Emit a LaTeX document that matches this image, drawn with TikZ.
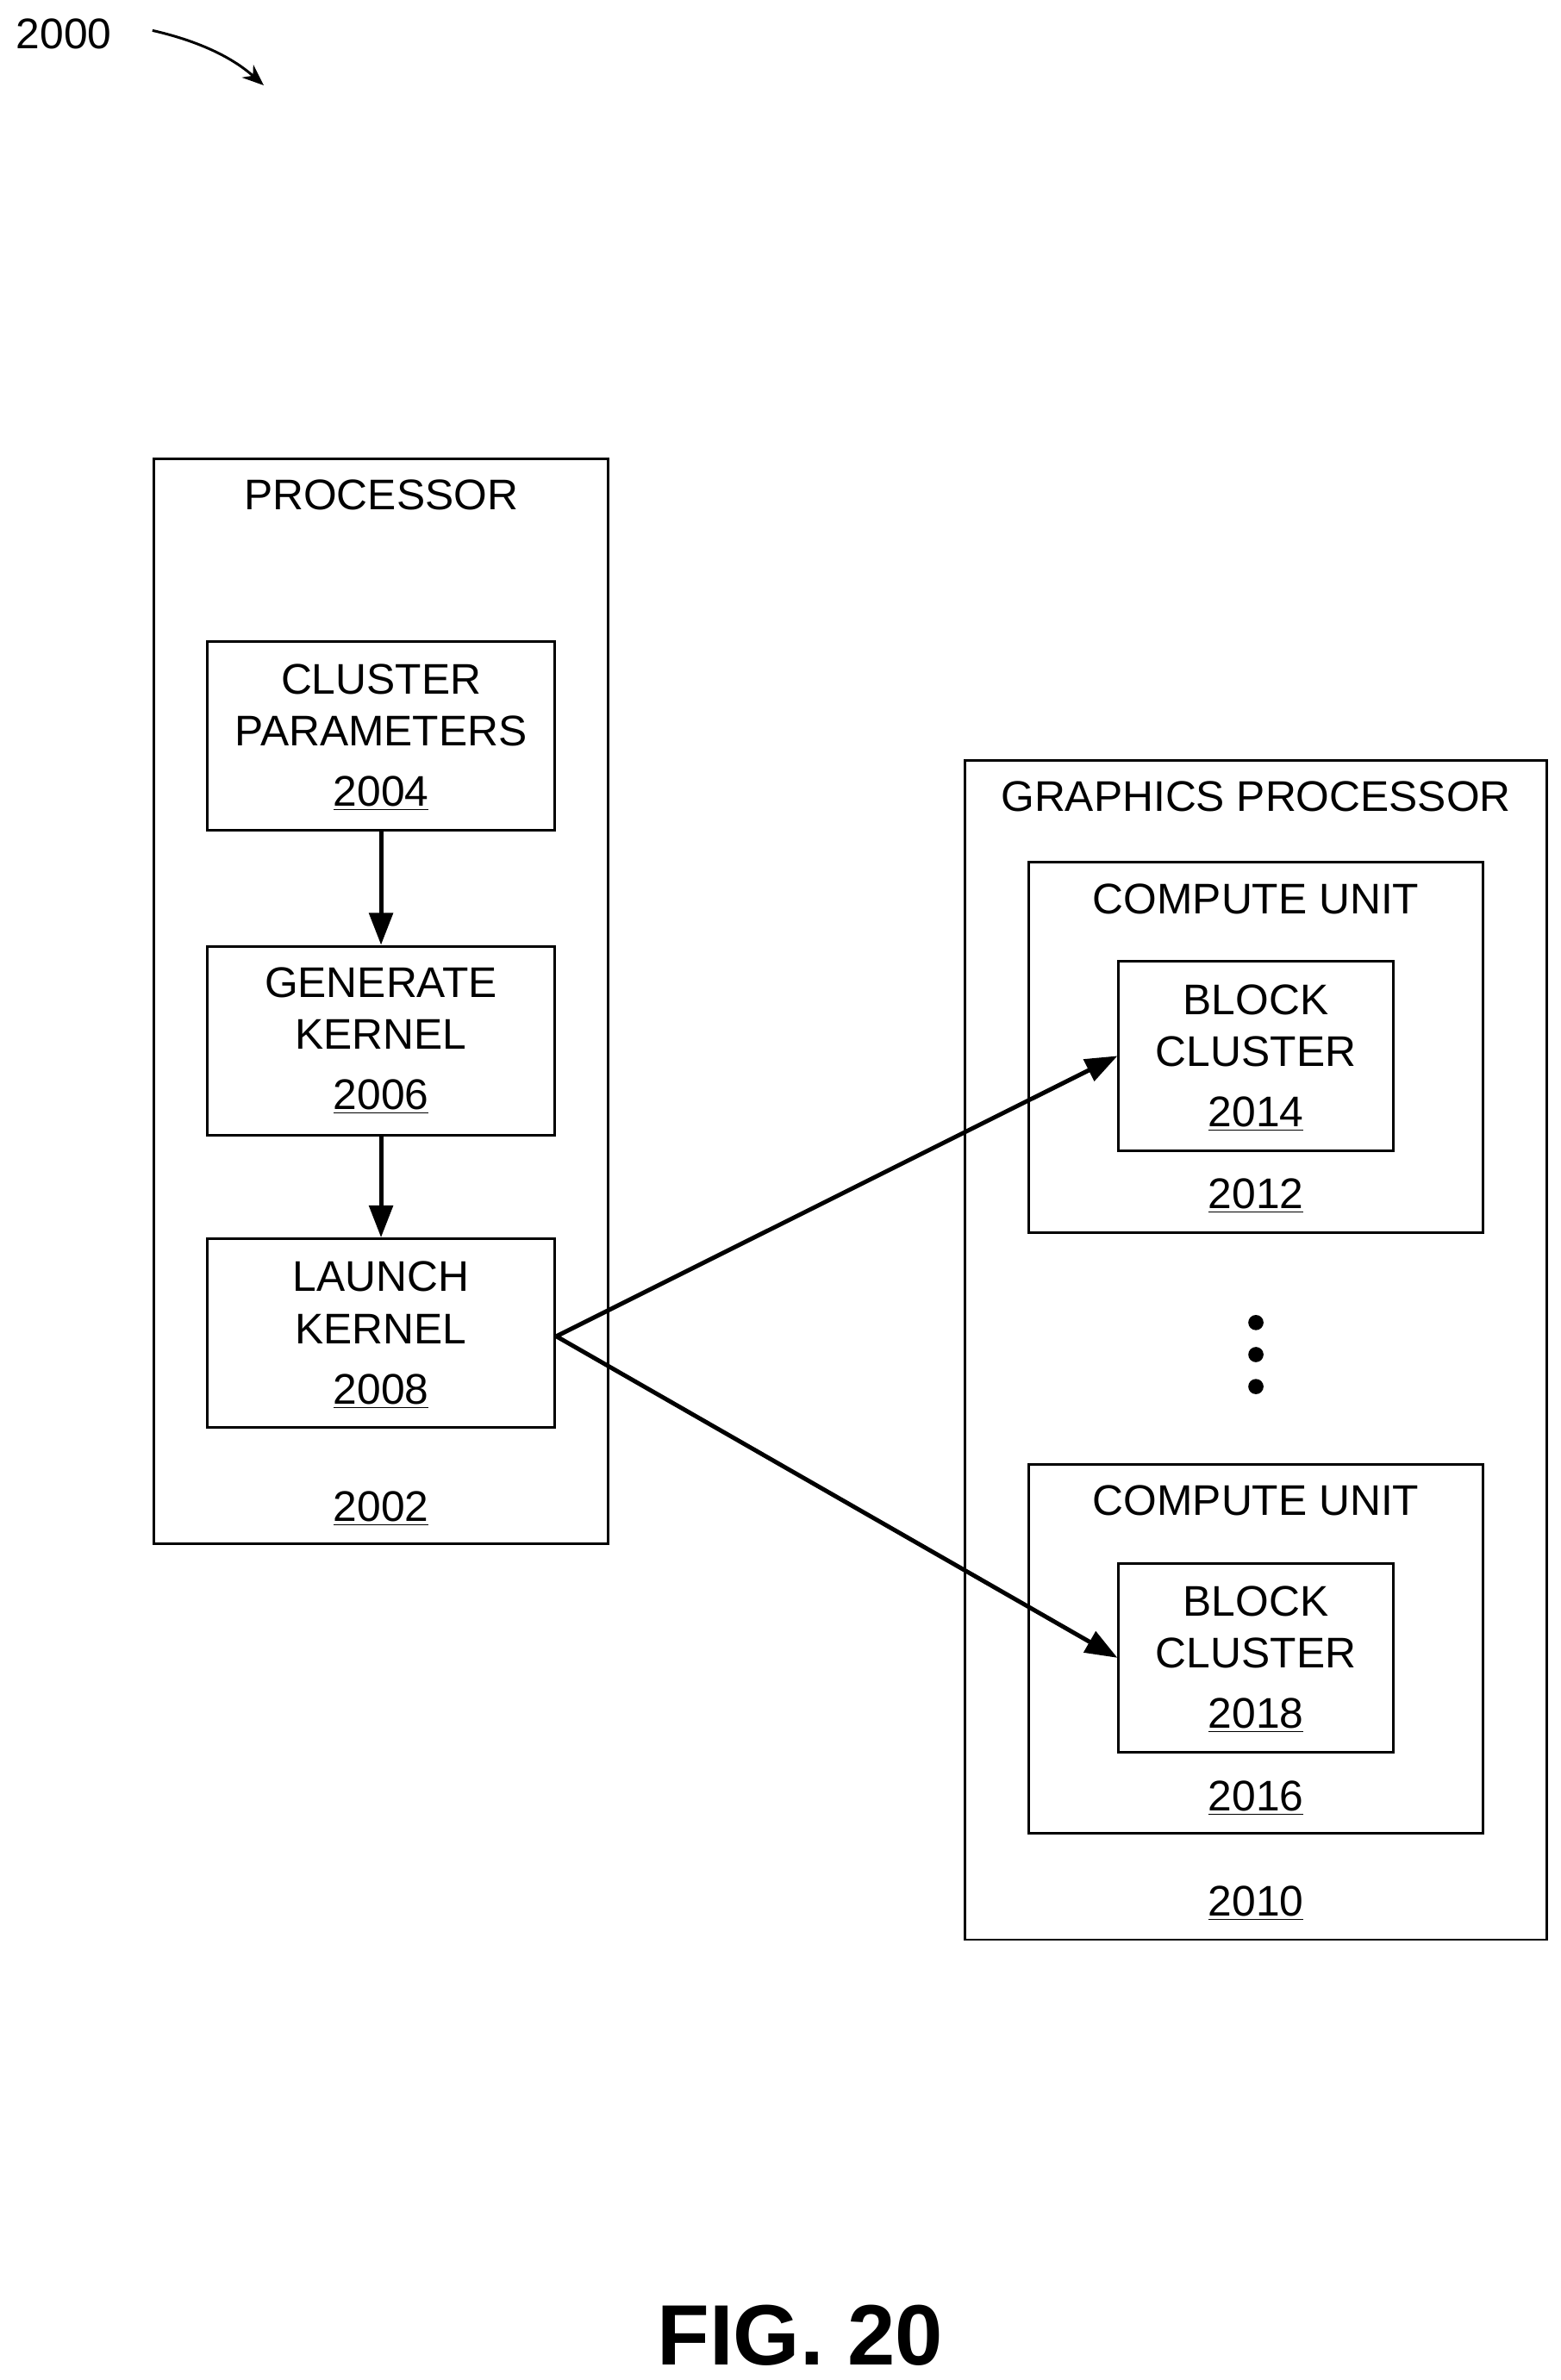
\documentclass[tikz,border=0pt]{standalone}
\usepackage{fontspec}
\setmainfont{Liberation Sans}
\usetikzlibrary{arrows.meta}
\begin{document}
\begin{tikzpicture}[x=0.025cm,y=-0.025cm,
  box/.style={draw,line width=1.2pt},
  t/.style={font=\fontsize{20pt}{23pt}\selectfont,inner sep=0pt,anchor=center},
  arr/.style={line width=2pt,-{Triangle[length=15pt,width=11pt]}}]
\useasboundingbox (0,0) rectangle (1024,1562);
% processor
\node[box,minimum width=298*0.025cm,minimum height=712*0.025cm,inner sep=0pt] (proc) at (250,657) {};
\node[t] (procl) at (250,325) {PROCESSOR};
\node[t] (n2002) at (250,990) {\underline{2002}};
\node[box,minimum width=228*0.025cm,minimum height=124*0.025cm,inner sep=0pt] (cp) at (250,483) {};
\node[t] (cpa) at (250,446) {CLUSTER};
\node[t] (cpb) at (250,480) {PARAMETERS};
\node[t] (cpc) at (250,521) {\underline{2004}};
\node[box,minimum width=228*0.025cm,minimum height=124*0.025cm,inner sep=0pt] (gk) at (250,683) {};
\node[t] (gka) at (250,645) {GENERATE};
\node[t] (gkb) at (250,679) {KERNEL};
\node[t] (gkc) at (250,720) {\underline{2006}};
\node[box,minimum width=228*0.025cm,minimum height=124*0.025cm,inner sep=0pt] (lk) at (250,875) {};
\node[t] (lka) at (250,838) {LAUNCH};
\node[t] (lkb) at (250,872) {KERNEL};
\node[t] (lkc) at (250,913) {\underline{2008}};
\draw[arr] (cp.south) -- (gk.north);
\draw[arr] (gk.south) -- (lk.north);
% graphics
\node[box,minimum width=382*0.025cm,minimum height=774*0.025cm,inner sep=0pt] (gp) at (824,886) {};
\node[t] (gpl) at (824,523) {GRAPHICS PROCESSOR};
\node[t] (n2010) at (824,1249) {\underline{2010}};
\node[box,minimum width=298*0.025cm,minimum height=243*0.025cm,inner sep=0pt] (cu1) at (824,687.5) {};
\node[t] (cu1l) at (824,590) {COMPUTE UNIT};
\node[t] (n2012) at (824,785) {\underline{2012}};
\node[box,minimum width=180*0.025cm,minimum height=124*0.025cm,inner sep=0pt] (bc1) at (824,693) {};
\node[t] (bc1a) at (824,656) {BLOCK};
\node[t] (bc1b) at (824,690) {CLUSTER};
\node[t] (bc1c) at (824,731) {\underline{2014}};
\node[box,minimum width=298*0.025cm,minimum height=242*0.025cm,inner sep=0pt] (cu2) at (824,1082) {};
\node[t] (cu2l) at (824,985) {COMPUTE UNIT};
\node[t] (n2016) at (824,1180) {\underline{2016}};
\node[box,minimum width=180*0.025cm,minimum height=124*0.025cm,inner sep=0pt] (bc2) at (824,1088) {};
\node[t] (bc2a) at (824,1051) {BLOCK};
\node[t] (bc2b) at (824,1085) {CLUSTER};
\node[t] (bc2c) at (824,1126) {\underline{2018}};
\foreach \yy in {868,889,910} \fill (824,\yy) circle (5);
\coordinate (src) at (365,877);
\draw[arr] (src) -- (bc1.west);
\draw[arr] (src) -- (bc2.west);
% label
\node[t] (n2000) at (42,22) {2000};
\coordinate (c1) at (100,20);
\coordinate (c2) at (173,56);
\draw[line width=1.2pt,-{Stealth[length=10pt,width=8pt]}] (c1) .. controls (135,28) and (155,40) .. (c2);
\node[font=\bfseries\fontsize{40pt}{46pt}\selectfont,inner sep=0pt] (fig) at (525,1533) {FIG. 20};
\end{tikzpicture}
\end{document}
